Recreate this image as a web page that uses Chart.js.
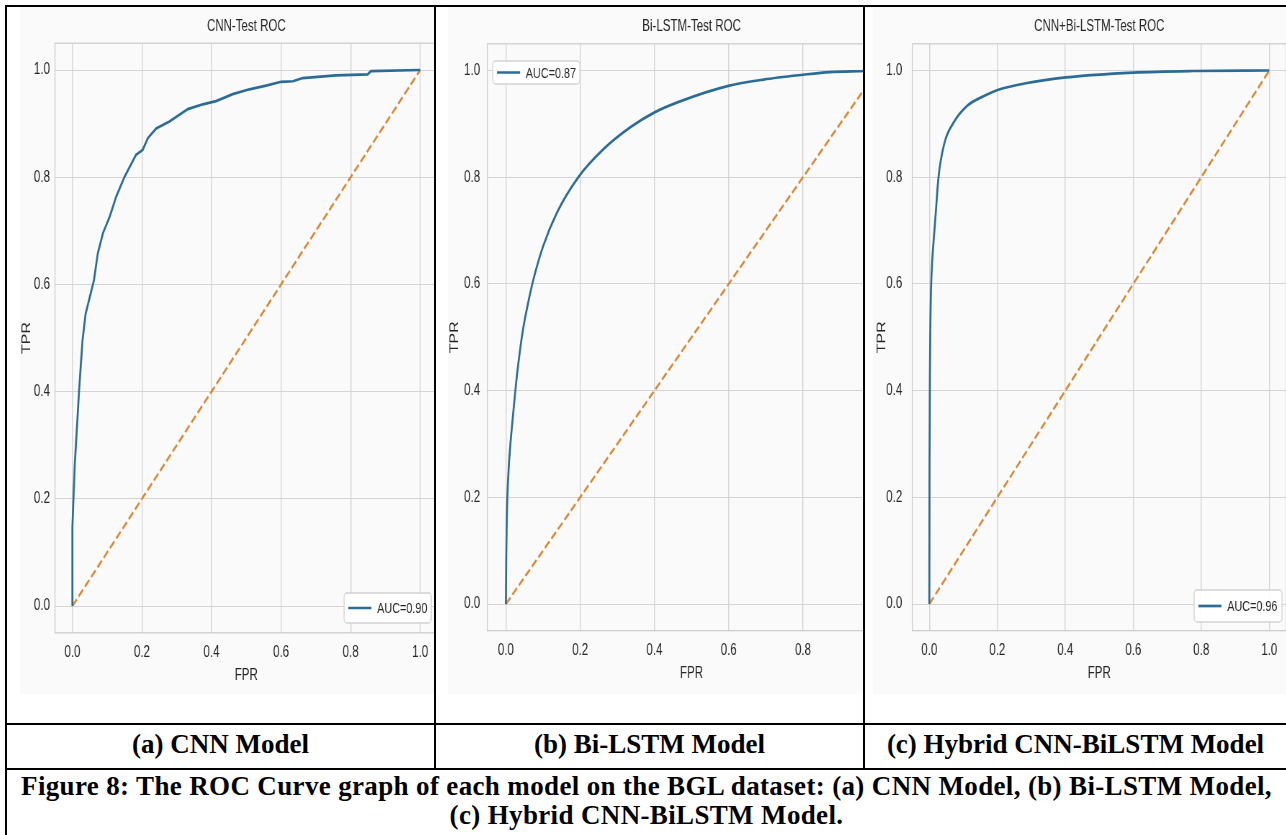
<!DOCTYPE html>
<html>
<head>
<meta charset="utf-8">
<title>ROC curves on BGL</title>
<script src="https://cdn.jsdelivr.net/npm/chart.js@4.4.1/dist/chart.umd.min.js"></script>
<style>
  html, body { margin: 0; padding: 0; background: #fff; width: 1286px; height: 835px; overflow: hidden; }
  .rule { position: absolute; background: #000; }
  .cell { position: absolute; top: 7px; height: 687px; overflow: hidden; background: #fafafa; }
  .squash { height: 687px; transform: scaleX(0.72); transform-origin: 0 0; }
  .cap { position: absolute; text-align: center; color: #000;
         font-family: "Liberation Serif", "Times New Roman", serif; font-weight: bold; font-size: 27px; }
</style>
</head>
<body>

<div class="rule" style="left:5px; top:5px; width:1281px; height:2px"></div>
<div class="rule" style="left:5px; top:5px; width:2px; height:830px"></div>
<div class="rule" style="left:434px; top:5px; width:2px; height:765px"></div>
<div class="rule" style="left:863px; top:5px; width:2px; height:765px"></div>
<div class="rule" style="left:5px; top:723px; width:1281px; height:2px"></div>
<div class="rule" style="left:5px; top:768px; width:1281px; height:2px"></div>

<div class="cell" style="left:20px; width:414px"><div class="squash" style="width:590px"><canvas id="rocCnn"></canvas></div></div>
<div class="cell" style="left:448px; width:415px"><div class="squash" style="width:632px"><canvas id="rocLstm"></canvas></div></div>
<div class="cell" style="left:873px; width:413px"><div class="squash" style="width:584px"><canvas id="rocHybrid"></canvas></div></div>

<div class="cap" style="left:7px; width:427px; top:725px; line-height:38px">(a) CNN Model</div>
<div class="cap" style="left:436px; width:427px; top:725px; line-height:38px">(b) Bi-LSTM Model</div>
<div class="cap" style="left:865px; width:421px; top:725px; line-height:38px">(c) Hybrid CNN-BiLSTM Model</div>
<div class="cap" style="left:7px; width:1279px; top:772px; line-height:29px; letter-spacing:0.35px">Figure 8: The ROC Curve graph of each model on the BGL dataset: (a) CNN Model, (b) Bi-LSTM Model,<br>(c) Hybrid CNN-BiLSTM Model.</div>

<script>
// values
const xTicks = [0, 0.2, 0.4, 0.6, 0.8, 1.0];
const yTicks = [0, 0.2, 0.4, 0.6, 0.8, 1.0];
const chanceFpr = [0, 1];
const chanceTpr = [0, 1];

const cnnFpr = [0, 0, 0.007, 0.019, 0.029, 0.038, 0.062, 0.073, 0.088, 0.107, 0.126, 0.150, 0.183, 0.202, 0.217,
  0.241, 0.279, 0.332, 0.375, 0.413, 0.461, 0.509, 0.557, 0.600, 0.634, 0.662, 0.758, 0.849, 0.858, 1.0];
const cnnTpr = [0, 0.148, 0.266, 0.400, 0.495, 0.545, 0.608, 0.658, 0.696, 0.726, 0.764, 0.801, 0.842, 0.851, 0.873,
  0.891, 0.904, 0.927, 0.936, 0.942, 0.955, 0.964, 0.971, 0.978, 0.979, 0.985, 0.990, 0.992, 0.998, 1.0];

const lstmFpr = [0, 0.001, 0.002, 0.004, 0.008, 0.011, 0.020, 0.030, 0.045, 0.060, 0.074, 0.100, 0.137, 0.195,
  0.262, 0.334, 0.399, 0.469, 0.599, 0.694, 0.800, 0.873, 0.968, 1.0];
const lstmTpr = [0, 0.09, 0.14, 0.20, 0.26, 0.29, 0.36, 0.43, 0.51, 0.565, 0.608, 0.670, 0.733, 0.800,
  0.852, 0.893, 0.921, 0.942, 0.971, 0.983, 0.992, 0.997, 0.999, 1.0];

const hybridFpr = [0, 0.0005, 0.002, 0.004, 0.007, 0.012, 0.018, 0.027, 0.044, 0.069, 0.108, 0.167, 0.199,
  0.284, 0.402, 0.600, 0.774, 1.0];
const hybridTpr = [0, 0.25, 0.45, 0.56, 0.625, 0.675, 0.725, 0.800, 0.863, 0.900, 0.932, 0.954, 0.963,
  0.976, 0.987, 0.996, 0.999, 1.0];

const panelTitles = ['CNN-Test ROC', 'Bi-LSTM-Test ROC', 'CNN+Bi-LSTM-Test ROC'];
const aucLabels = ['AUC=0.90', 'AUC=0.87', 'AUC=0.96'];

const blue = '#2a6b98';
const orange = '#dc8734';
const inkColor = '#262626';
const gridColor = '#d4d4d4';
const fontFamily = '"Liberation Sans", Arial, sans-serif';

// light frame round the axes (top/right are not drawn by the scales)
const rocFrame = {
  id: 'rocFrame',
  beforeDatasetsDraw(chart) {
    const { ctx, chartArea: a } = chart;
    ctx.save();
    ctx.strokeStyle = '#cdcdcd';
    ctx.lineWidth = 1.3;
    ctx.strokeRect(a.left, a.top, a.right - a.left, a.bottom - a.top);
    ctx.restore();
  }
};

// matplotlib style legend box inside the axes
const cornerLegend = {
  id: 'cornerLegend',
  afterDatasetsDraw(chart, args, opts) {
    const { ctx, chartArea: a } = chart;
    const ds = chart.data.datasets[0];
    const x = opts.corner === 'tl' ? a.left + opts.dx : a.right - opts.dx - opts.w;
    const y = opts.corner === 'tl' ? a.top + opts.dy : a.bottom - opts.dy - opts.h;
    const mid = y + opts.h / 2;
    ctx.save();
    ctx.fillStyle = 'rgba(255,255,255,0.9)';
    ctx.strokeStyle = '#d2d2d2';
    ctx.lineWidth = 1.3;
    ctx.beginPath();
    ctx.roundRect(x, y, opts.w, opts.h, 4);
    ctx.fill();
    ctx.stroke();
    ctx.strokeStyle = ds.borderColor;
    ctx.lineWidth = ds.borderWidth;
    ctx.beginPath();
    ctx.moveTo(x + 6, mid);
    ctx.lineTo(x + 38, mid);
    ctx.stroke();
    ctx.fillStyle = inkColor;
    ctx.font = '15px ' + fontFamily;
    ctx.textBaseline = 'middle';
    ctx.fillText(ds.label, x + 46, mid + 1);
    ctx.restore();
  }
};

function drawRoc(canvasId, fpr, tpr, title, auc, smooth, f) {
  const curve = fpr.map((v, i) => ({ x: v, y: tpr[i] }));
  const chance = chanceFpr.map((v, i) => ({ x: v, y: chanceTpr[i] }));
  const font = { family: fontFamily, size: 16 };

  return new Chart(document.getElementById(canvasId), {
    type: 'line',
    data: {
      datasets: [
        {
          label: auc,
          data: curve,
          borderColor: blue,
          borderWidth: 2.7,
          pointRadius: 0,
          cubicInterpolationMode: smooth ? 'monotone' : 'default',
          tension: 0
        },
        {
          label: 'chance',
          data: chance,
          borderColor: orange,
          borderWidth: 2.5,
          borderDash: [9, 4],
          pointRadius: 0
        }
      ]
    },
    options: {
      responsive: true,
      maintainAspectRatio: false,
      animation: false,
      devicePixelRatio: 1,
      layout: { padding: { top: 10.4, right: 10, bottom: 0, left: 0 } },
      plugins: {
        legend: { display: false },
        tooltip: { enabled: false },
        title: {
          display: true,
          text: title,
          fullSize: false,
          color: inkColor,
          font: { family: fontFamily, size: 16, weight: 'normal' },
          padding: { top: 0, bottom: f.titleGap }
        },
        cornerLegend: f.legend
      },
      scales: {
        x: {
          type: 'linear',
          min: -0.05,
          max: 1.05,
          afterBuildTicks: (s) => { s.ticks = xTicks.map((v) => ({ value: v })); },
          afterFit: (s) => { s.height = f.xAxisHeight; },
          grid: { color: gridColor, lineWidth: 1.4, drawTicks: false },
          border: { display: false },
          ticks: { padding: 10, color: inkColor, font: font, callback: (v) => v.toFixed(1) },
          title: { display: true, text: 'FPR', color: inkColor, font: font, padding: { top: 0, bottom: f.xTitlePad } }
        },
        y: {
          min: -0.05,
          max: 1.05,
          afterBuildTicks: (s) => { s.ticks = yTicks.map((v) => ({ value: v })); },
          afterFit: (s) => { s.width = f.yAxisWidth; },
          grid: { color: gridColor, lineWidth: 1, drawTicks: false },
          border: { display: false },
          ticks: { padding: f.yTickPad, color: inkColor, font: font, callback: (v) => v.toFixed(1) },
          title: { display: true, text: 'TPR', color: inkColor, font: font, padding: { top: f.yTitlePad, bottom: 0 } }
        }
      }
    },
    plugins: [rocFrame, cornerLegend]
  });
}

drawRoc('rocCnn', cnnFpr, cnnTpr, panelTitles[0], aucLabels[0], false, {
  yAxisWidth: 48.6, yTickPad: 7, yTitlePad: 0, titleGap: 6.6, xAxisHeight: 61.2, xTitlePad: 8.4,
  legend: { corner: 'br', dx: 8.9, dy: 9.8, w: 121, h: 30 }
});
drawRoc('rocLstm', lstmFpr, lstmTpr, panelTitles[1], aucLabels[1], true, {
  yAxisWidth: 54.6, yTickPad: 10, yTitlePad: 0, titleGap: 7.2, xAxisHeight: 63.3, xTitlePad: 11.1,
  legend: { corner: 'tl', dx: 7.5, dy: 17.2, w: 121, h: 23 }
});
drawRoc('rocHybrid', hybridFpr, hybridTpr, panelTitles[2], aucLabels[2], true, {
  yAxisWidth: 54.6, yTickPad: 14, yTitlePad: 3, titleGap: 7.2, xAxisHeight: 63.3, xTitlePad: 11.1,
  legend: { corner: 'br', dx: 6, dy: 8.7, w: 122, h: 32 }
});
</script>
</body>
</html>
